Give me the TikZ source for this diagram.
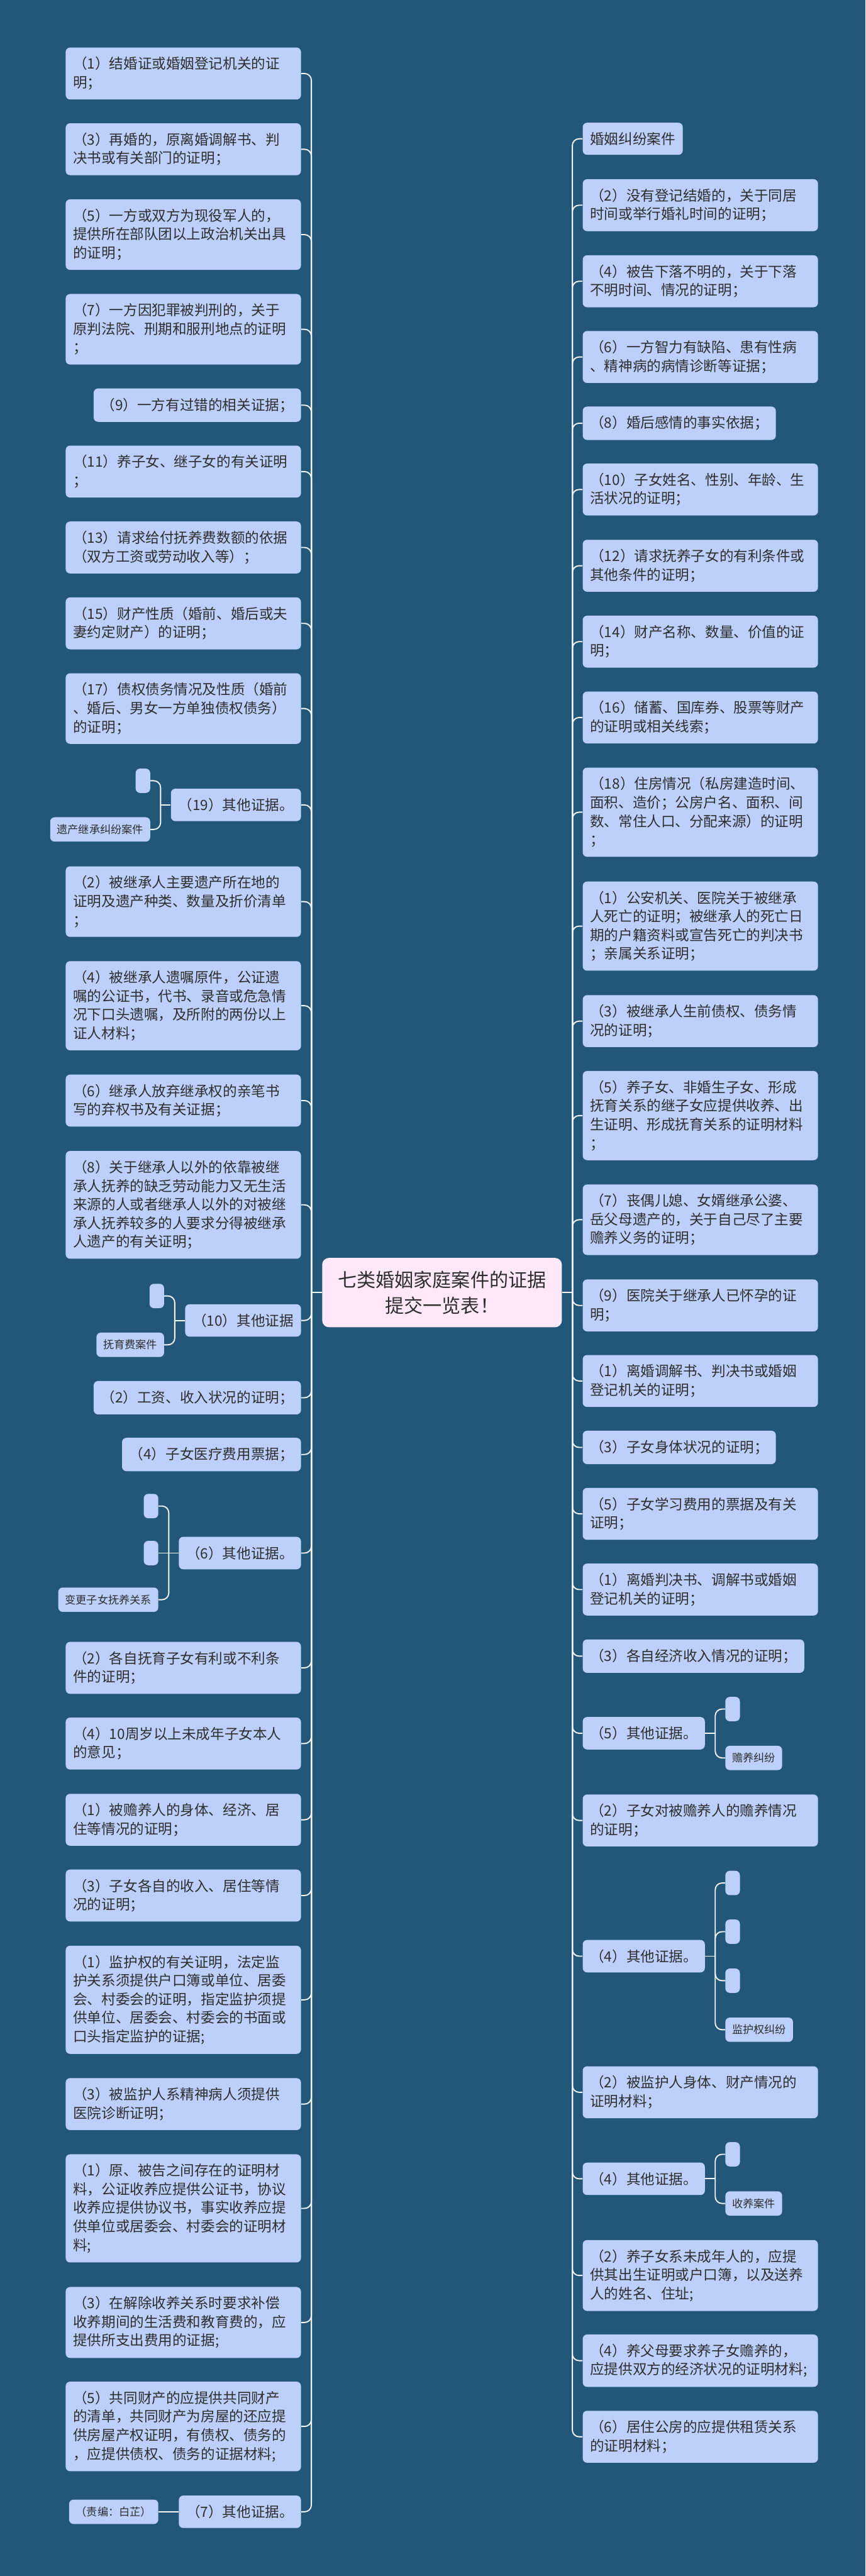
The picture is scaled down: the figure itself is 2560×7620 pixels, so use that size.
\documentclass[tikz,border=0pt]{standalone}
\usepackage{fontspec}
\setmainfont{Noto Sans CJK SC}
\usepackage{tikz}
\definecolor{MapBg}{HTML}{22577A}
\definecolor{MapBox}{HTML}{BDD0FB}
\definecolor{MapRoot}{HTML}{FFE8F9}
\definecolor{MapInk}{HTML}{2E2E2E}
\definecolor{MapLine}{HTML}{F4F4F4}
\tikzset{
  evbox/.style={fill=MapBox,rounded corners=1.3mm,text=MapInk,align=left,
    inner xsep=2.2mm,inner ysep=2.8mm,font=\fontsize{11.95pt}{15.65pt}\selectfont},
  evwide/.style={evbox,text width=65.2mm},
  evtag/.style={fill=MapBox,rounded corners=1.3mm,text=MapInk,inner xsep=2mm,
    minimum height=7.2mm,font=\fontsize{9.1pt}{11pt}\selectfont},
  evblank/.style={fill=MapBox,rounded corners=1.3mm,inner sep=0pt,
    minimum width=4.3mm,minimum height=7.2mm},
  evroot/.style={fill=MapRoot,rounded corners=2mm,text=MapInk,align=center,
    minimum width=70.9mm,minimum height=20.5mm,font=\fontsize{15.94pt}{21.6pt}\selectfont},
  evlink/.style={draw=MapLine,line width=1pt,rounded corners=2mm}
}

\begin{document}
\begin{tikzpicture}[x=0.1mm,y=-0.1mm]
\path[use as bounding box] (0,0) rectangle (2560,7620);
\fill[MapBg] (0,0) rectangle (2560,7620);
\node[evroot] (root) at (1307.5,3823.5) {七类婚姻家庭案件的证据\\提交一览表！};
\coordinate (tl) at (921,3823.5);
\coordinate (tr) at (1693,3823.5);
% left column
\node[evwide,anchor=east] (mar1) at (891,217.5) {（1）结婚证或婚姻登记机关的证\\明；};
\node[evwide,anchor=east] (mar3) at (891,441.5) {（3）再婚的，原离婚调解书、判\\决书或有关部门的证明；};
\node[evwide,anchor=east] (mar5) at (891,694) {（5）一方或双方为现役军人的，\\提供所在部队团以上政治机关出具\\的证明；};
\node[evwide,anchor=east] (mar7) at (891,974) {（7）一方因犯罪被判刑的，关于\\原判法院、刑期和服刑地点的证明\\；};
\node[evbox,anchor=east] (mar9) at (891,1198.5) {（9）一方有过错的相关证据；};
\node[evwide,anchor=east] (mar11) at (891,1395) {（11）养子女、继子女的有关证明\\；};
\node[evwide,anchor=east] (mar13) at (891,1619.5) {（13）请求给付抚养费数额的依据\\（双方工资或劳动收入等）；};
\node[evwide,anchor=east] (mar15) at (891,1844) {（15）财产性质（婚前、婚后或夫\\妻约定财产）的证明；};
\node[evwide,anchor=east] (mar17) at (891,2096) {（17）债权债务情况及性质（婚前\\、婚后、男女一方单独债权债务）\\的证明；};
\node[evbox,anchor=east] (mar19) at (891,2381) {（19）其他证据。};
\node[evblank,anchor=east] (mar19a) at (445,2309.5) {};
\node[evtag,anchor=east] (mar19b) at (445,2453.5) {遗产继承纠纷案件};
\node[evwide,anchor=east] (inh2) at (891,2667) {（2）被继承人主要遗产所在地的\\证明及遗产种类、数量及折价清单\\；};
\node[evwide,anchor=east] (inh4) at (891,2975) {（4）被继承人遗嘱原件，公证遗\\嘱的公证书，代书、录音或危急情\\况下口头遗嘱，及所附的两份以上\\证人材料；};
\node[evwide,anchor=east] (inh6) at (891,3255.5) {（6）继承人放弃继承权的亲笔书\\写的弃权书及有关证据；};
\node[evwide,anchor=east] (inh8) at (891,3564) {（8）关于继承人以外的依靠被继\\承人抚养的缺乏劳动能力又无生活\\来源的人或者继承人以外的对被继\\承人抚养较多的人要求分得被继承\\人遗产的有关证明；};
\node[evbox,anchor=east] (inh10) at (891,3906) {（10）其他证据};
\node[evblank,anchor=east] (inh10a) at (486,3833.5) {};
\node[evtag,anchor=east] (inh10b) at (486,3978) {抚育费案件};
\node[evbox,anchor=east] (sup2) at (891,4134.5) {（2）工资、收入状况的证明；};
\node[evbox,anchor=east] (sup4) at (891,4302.5) {（4）子女医疗费用票据；};
\node[evbox,anchor=east] (sup6) at (891,4594) {（6）其他证据。};
\node[evblank,anchor=east] (sup6a) at (469,4455) {};
\node[evblank,anchor=east] (sup6b) at (469,4594) {};
\node[evtag,anchor=east] (sup6c) at (469,4732) {变更子女抚养关系};
\node[evwide,anchor=east] (chg2) at (891,4933.5) {（2）各自抚育子女有利或不利条\\件的证明；};
\node[evwide,anchor=east] (chg4) at (891,5157.5) {（4）10周岁以上未成年子女本人\\的意见；};
\node[evwide,anchor=east] (eld1) at (891,5383) {（1）被赡养人的身体、经济、居\\住等情况的证明；};
\node[evwide,anchor=east] (eld3) at (891,5607) {（3）子女各自的收入、居住等情\\况的证明；};
\node[evwide,anchor=east] (grd1) at (891,5915.5) {（1）监护权的有关证明，法定监\\护关系须提供户口簿或单位、居委\\会、村委会的证明，指定监护须提\\供单位、居委会、村委会的书面或\\口头指定监护的证据;};
\node[evwide,anchor=east] (grd3) at (891,6224) {（3）被监护人系精神病人须提供\\医院诊断证明；};
\node[evwide,anchor=east] (adp1) at (891,6532.5) {（1）原、被告之间存在的证明材\\料，公证收养应提供公证书，协议\\收养应提供协议书，事实收养应提\\供单位或居委会、村委会的证明材\\料;};
\node[evwide,anchor=east] (adp3) at (891,6870) {（3）在解除收养关系时要求补偿\\收养期间的生活费和教育费的，应\\提供所支出费用的证据;};
\node[evwide,anchor=east] (adp5) at (891,7177.5) {（5）共同财产的应提供共同财产\\的清单，共同财产为房屋的还应提\\供房屋产权证明，有债权、债务的\\，应提供债权、债务的证据材料;};
\node[evbox,anchor=east] (adp7) at (891,7430) {（7）其他证据。};
\node[evtag,anchor=east] (adp7a) at (469,7430) {（责编：白芷）};
% right column
\node[evbox,anchor=west] (marT) at (1723,410.5) {婚姻纠纷案件};
\node[evwide,anchor=west] (mar2) at (1723,607) {（2）没有登记结婚的，关于同居\\时间或举行婚礼时间的证明；};
\node[evwide,anchor=west] (mar4) at (1723,832) {（4）被告下落不明的，关于下落\\不明时间、情况的证明；};
\node[evwide,anchor=west] (mar6) at (1723,1056) {（6）一方智力有缺陷、患有性病\\、精神病的病情诊断等证据；};
\node[evbox,anchor=west] (mar8) at (1723,1252) {（8）婚后感情的事实依据；};
\node[evwide,anchor=west] (mar10) at (1723,1448) {（10）子女姓名、性别、年龄、生\\活状况的证明；};
\node[evwide,anchor=west] (mar12) at (1723,1673.5) {（12）请求抚养子女的有利条件或\\其他条件的证明；};
\node[evwide,anchor=west] (mar14) at (1723,1898) {（14）财产名称、数量、价值的证\\明；};
\node[evwide,anchor=west] (mar16) at (1723,2122.5) {（16）储蓄、国库券、股票等财产\\的证明或相关线索；};
\node[evwide,anchor=west] (mar18) at (1723,2402.5) {（18）住房情况（私房建造时间、\\面积、造价；公房户名、面积、间\\数、常住人口、分配来源）的证明\\；};
\node[evwide,anchor=west] (inh1) at (1723,2739.5) {（1）公安机关、医院关于被继承\\人死亡的证明；被继承人的死亡日\\期的户籍资料或宣告死亡的判决书\\；亲属关系证明；};
\node[evwide,anchor=west] (inh3) at (1723,3020.5) {（3）被继承人生前债权、债务情\\况的证明；};
\node[evwide,anchor=west] (inh5) at (1723,3300) {（5）养子女、非婚生子女、形成\\抚育关系的继子女应提供收养、出\\生证明、形成抚育关系的证明材料\\；};
\node[evwide,anchor=west] (inh7) at (1723,3608) {（7）丧偶儿媳、女婿继承公婆、\\岳父母遗产的，关于自己尽了主要\\赡养义务的证明；};
\node[evwide,anchor=west] (inh9) at (1723,3861.5) {（9）医院关于继承人已怀孕的证\\明；};
\node[evwide,anchor=west] (sup1) at (1723,4085) {（1）离婚调解书、判决书或婚姻\\登记机关的证明；};
\node[evbox,anchor=west] (sup3) at (1723,4281.5) {（3）子女身体状况的证明；};
\node[evwide,anchor=west] (sup5) at (1723,4478) {（5）子女学习费用的票据及有关\\证明；};
\node[evwide,anchor=west] (chg1) at (1723,4702) {（1）离婚判决书、调解书或婚姻\\登记机关的证明；};
\node[evbox,anchor=west] (chg3) at (1723,4899) {（3）各自经济收入情况的证明；};
\node[evbox,anchor=west] (chg5) at (1723,5127) {（5）其他证据。};
\node[evblank,anchor=west] (chg5a) at (2145,5055.5) {};
\node[evtag,anchor=west] (chg5b) at (2145,5200) {赡养纠纷};
\node[evwide,anchor=west] (eld2) at (1723,5385) {（2）子女对被赡养人的赡养情况\\的证明；};
\node[evbox,anchor=west] (eld4) at (1723,5786.5) {（4）其他证据。};
\node[evblank,anchor=west] (eld4a) at (2145,5570) {};
\node[evblank,anchor=west] (eld4b) at (2145,5714) {};
\node[evblank,anchor=west] (eld4c) at (2145,5859) {};
\node[evtag,anchor=west] (eld4d) at (2145,6004) {监护权纠纷};
\node[evwide,anchor=west] (grd2) at (1723,6189) {（2）被监护人身体、财产情况的\\证明材料；};
\node[evbox,anchor=west] (grd4) at (1723,6445) {（4）其他证据。};
\node[evblank,anchor=west] (grd4a) at (2145,6372.5) {};
\node[evtag,anchor=west] (grd4b) at (2145,6518) {收养案件};
\node[evwide,anchor=west] (adp2) at (1723,6731) {（2）养子女系未成年人的，应提\\供其出生证明或户口簿，以及送养\\人的姓名、住址;};
\node[evwide,anchor=west] (adp4) at (1723,6983) {（4）养父母要求养子女赡养的，\\应提供双方的经济状况的证明材料;};
\node[evwide,anchor=west] (adp6) at (1723,7208) {（6）居住公房的应提供租赁关系\\的证明材料；};
% links
\draw[evlink] (root.west) -- (tl);
\draw[evlink] (root.east) -- (tr);
\foreach \n in {mar1,mar3,mar5,mar7,mar9,mar11,mar13,mar15,mar17,mar19,inh2,inh4,inh6,inh8,inh10,sup2,sup4,sup6,chg2,chg4,eld1,eld3,grd1,grd3,adp1,adp3,adp5,adp7}
  \draw[evlink] (tl) |- (\n.east);
\foreach \n in {marT,mar2,mar4,mar6,mar8,mar10,mar12,mar14,mar16,mar18,inh1,inh3,inh5,inh7,inh9,sup1,sup3,sup5,chg1,chg3,chg5,eld2,eld4,grd2,grd4,adp2,adp4,adp6}
  \draw[evlink] (tr) |- (\n.west);
\draw[evlink] (mar19.west) -- ++(-30,0) coordinate (mar19k);
\draw[evlink] (mar19k) |- (mar19a.east);
\draw[evlink] (mar19k) |- (mar19b.east);
\draw[evlink] (inh10.west) -- ++(-30,0) coordinate (inh10k);
\draw[evlink] (inh10k) |- (inh10a.east);
\draw[evlink] (inh10k) |- (inh10b.east);
\draw[evlink] (sup6.west) -- (sup6b.east);
\draw[evlink] (sup6.west) ++(-29,0) coordinate (sup6k);
\draw[evlink] (sup6k) |- (sup6a.east);
\draw[evlink] (sup6k) |- (sup6c.east);
\draw[evlink] (adp7.west) -- (adp7a.east);
\draw[evlink] (chg5.east) -- ++(30,0) coordinate (chg5k);
\draw[evlink] (chg5k) |- (chg5a.west);
\draw[evlink] (chg5k) |- (chg5b.west);
\draw[evlink] (eld4.east) -- ++(30,0) coordinate (eld4k);
\foreach \n in {eld4a,eld4b,eld4c,eld4d}
  \draw[evlink] (eld4k) |- (\n.west);
\draw[evlink] (grd4.east) -- ++(30,0) coordinate (grd4k);
\draw[evlink] (grd4k) |- (grd4a.west);
\draw[evlink] (grd4k) |- (grd4b.west);
\end{tikzpicture}
\end{document}
